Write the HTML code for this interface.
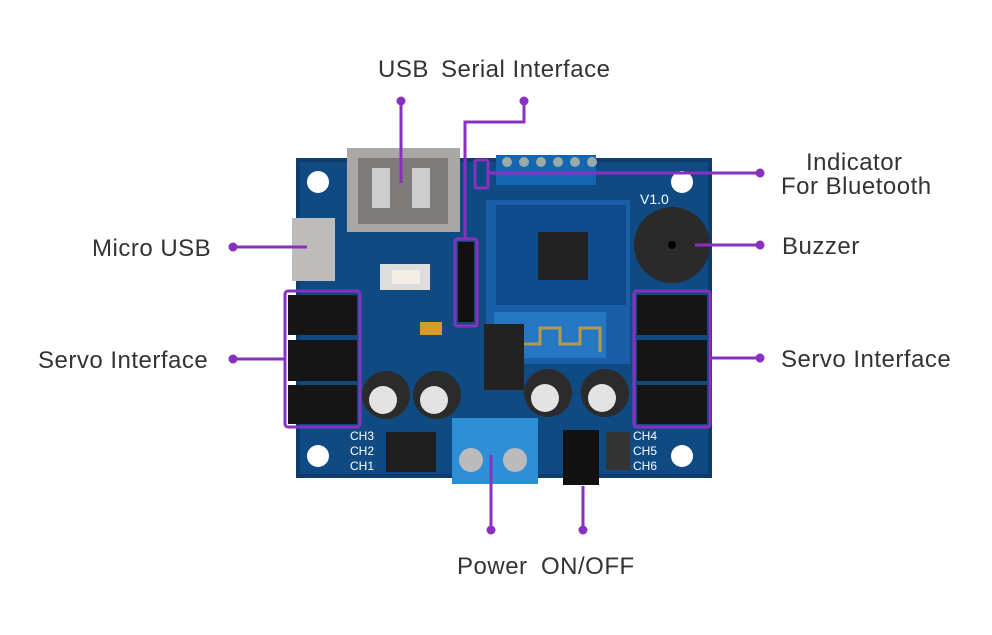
<!DOCTYPE html>
<html><head><style>
body{margin:0;background:#fff;width:992px;height:635px;overflow:hidden}
svg{display:block}
text{font-family:"Liberation Sans",sans-serif;font-size:24px;letter-spacing:0.5px;fill:#333}
</style></head><body>
<svg width="992" height="635" viewBox="0 0 992 635">
<rect x="296" y="158" width="416" height="320" fill="#0c3d6e"/>
<rect x="300" y="162" width="408" height="312" fill="#0f4a82"/>
<rect x="496" y="155" width="100" height="30" fill="#1466b0"/>
<g fill="#9aa">
<circle cx="507" cy="162" r="5"/><circle cx="524" cy="162" r="5"/><circle cx="541" cy="162" r="5"/><circle cx="558" cy="162" r="5"/><circle cx="575" cy="162" r="5"/><circle cx="592" cy="162" r="5"/></g>
<circle cx="318" cy="182" r="11" fill="#fff"/><circle cx="682" cy="182" r="11" fill="#fff"/>
<circle cx="318" cy="456" r="11" fill="#fff"/><circle cx="682" cy="456" r="11" fill="#fff"/>
<rect x="347" y="148" width="113" height="84" fill="#a9a8a6"/>
<rect x="358" y="158" width="90" height="66" fill="#7d7c7a"/>
<rect x="372" y="168" width="18" height="40" fill="#ccc"/><rect x="412" y="168" width="18" height="40" fill="#ccc"/>
<rect x="292" y="218" width="43" height="63" fill="#bdbcbb"/>
<rect x="380" y="264" width="50" height="26" fill="#ddd"/><rect x="392" y="270" width="28" height="14" fill="#f3efe6"/>
<rect x="486" y="200" width="144" height="164" fill="#1a5ea8"/>
<rect x="496" y="205" width="130" height="100" fill="#0d4b8c"/>
<rect x="538" y="232" width="50" height="48" fill="#222"/>
<rect x="494" y="312" width="112" height="46" fill="#2577c4"/>
<path d="M500 352 V328 h20 v16 h20 v-16 h20 v16 h20 v-16 h20 v24" fill="none" stroke="#b59a4a" stroke-width="3"/>
<rect x="484" y="324" width="40" height="66" fill="#222"/>
<circle cx="672" cy="245" r="38" fill="#2a2a2a"/><circle cx="672" cy="245" r="4" fill="#000"/>
<g fill="#2b2b2b"><circle cx="386" cy="395" r="24"/><circle cx="437" cy="395" r="24"/><circle cx="548" cy="393" r="24"/><circle cx="605" cy="393" r="24"/></g>
<g fill="#e3e3e3"><circle cx="383" cy="400" r="14"/><circle cx="434" cy="400" r="14"/><circle cx="545" cy="398" r="14"/><circle cx="602" cy="398" r="14"/></g>
<rect x="452" y="418" width="86" height="66" fill="#2f8fd6"/>
<circle cx="471" cy="460" r="12" fill="#bbb"/><circle cx="515" cy="460" r="12" fill="#bbb"/>
<rect x="563" y="430" width="36" height="55" fill="#111"/>
<rect x="386" y="432" width="50" height="40" fill="#1e1e1e"/>
<rect x="606" y="432" width="24" height="38" fill="#333"/>
<rect x="420" y="322" width="22" height="13" fill="#d99a2b"/>
<rect x="458" y="242" width="16" height="80" fill="#111"/>
<g fill="#151515">
<rect x="288" y="295" width="69" height="40"/><rect x="288" y="340" width="69" height="41"/><rect x="288" y="385" width="69" height="39"/>
<rect x="637" y="295" width="70" height="40"/><rect x="637" y="340" width="70" height="41"/><rect x="637" y="385" width="70" height="39"/></g>
<g>
<text x="350" y="440" style="font-size:12px;fill:#fff;letter-spacing:0">CH3</text><text x="350" y="455" style="font-size:12px;fill:#fff;letter-spacing:0">CH2</text><text x="350" y="470" style="font-size:12px;fill:#fff;letter-spacing:0">CH1</text>
<text x="633" y="440" style="font-size:12px;fill:#fff;letter-spacing:0">CH4</text><text x="633" y="455" style="font-size:12px;fill:#fff;letter-spacing:0">CH5</text><text x="633" y="470" style="font-size:12px;fill:#fff;letter-spacing:0">CH6</text>
<text x="640" y="204" style="font-size:14px;fill:#fff;letter-spacing:0">V1.0</text></g>
<g stroke="#8a30c0" stroke-width="3" fill="none">
<rect x="285" y="291" width="75" height="136" rx="3"/>
<rect x="634" y="291" width="76" height="136" rx="3"/>
<rect x="455" y="239" width="22" height="87" rx="2"/>
<rect x="475" y="160" width="13" height="28" rx="2"/>
<path d="M401 101 V183"/>
<path d="M524 101 V122 H465 V239"/>
<path d="M488 173 H760"/>
<path d="M695 245 H760"/>
<path d="M233 247 H307"/>
<path d="M233 359 H285"/>
<path d="M710 358 H760"/>
<path d="M491 530 V455"/>
<path d="M583 530 V486"/>
</g>
<g fill="#8a30c0">
<circle cx="401" cy="101" r="4.5"/><circle cx="524" cy="101" r="4.5"/><circle cx="760" cy="173" r="4.5"/><circle cx="760" cy="245" r="4.5"/>
<circle cx="233" cy="247" r="4.5"/><circle cx="233" cy="359" r="4.5"/><circle cx="760" cy="358" r="4.5"/>
<circle cx="491" cy="530" r="4.5"/><circle cx="583" cy="530" r="4.5"/></g>
<text x="378" y="77">USB</text>
<text x="441" y="77">Serial Interface</text>
<text x="806" y="170">Indicator</text>
<text x="781" y="194">For Bluetooth</text>
<text x="782" y="254">Buzzer</text>
<text x="92" y="256">Micro USB</text>
<text x="38" y="368">Servo Interface</text>
<text x="781" y="367">Servo Interface</text>
<text x="457" y="574">Power</text>
<text x="541" y="574">ON/OFF</text>
</svg>
</body></html>
